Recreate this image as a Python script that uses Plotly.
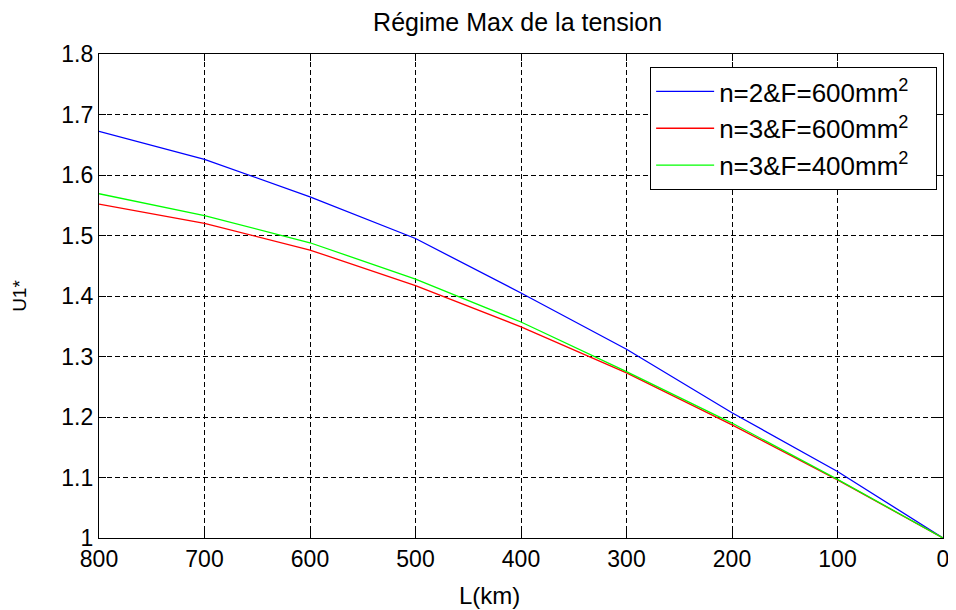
import plotly.graph_objects as go

L_km = [800, 700, 600, 500, 400, 300, 200, 100, 0]
u_n2_f600 = [1.672, 1.626, 1.564, 1.495, 1.405, 1.312, 1.207, 1.110, 1.0]
u_n3_f600 = [1.552, 1.520, 1.476, 1.417, 1.349, 1.273, 1.187, 1.096, 1.0]
u_n3_f400 = [1.569, 1.533, 1.488, 1.428, 1.357, 1.275, 1.190, 1.097, 1.0]

x_ticks = [800, 700, 600, 500, 400, 300, 200, 100, 0]
y_ticks = [1.0, 1.1, 1.2, 1.3, 1.4, 1.5, 1.6, 1.7, 1.8]
y_tick_text = ["1", "1.1", "1.2", "1.3", "1.4", "1.5", "1.6", "1.7", "1.8"]

names = ["n=2&F=600mm<sup>2</sup>", "n=3&F=600mm<sup>2</sup>", "n=3&F=400mm<sup>2</sup>"]
colors = ["#0000ff", "#ff0000", "#00ff00"]
series = [u_n2_f600, u_n3_f600, u_n3_f400]

fig = go.Figure()
for nm, c, s in zip(names, colors, series):
    fig.add_trace(go.Scatter(x=L_km, y=s, mode="lines", name=nm + "   ",
                             line=dict(color=c, width=1.3)))

font = "Liberation Sans, Arial, sans-serif"
axis_common = dict(
    showline=True, linecolor="black", linewidth=1.2, mirror="allticks",
    ticks="inside", ticklen=7, tickcolor="black",
    showgrid=True, gridcolor="black", griddash="5px,3px", gridwidth=1,
    zeroline=False, tickfont=dict(family=font, size=23, color="black"),
)

fig.update_layout(
    width=948, height=602,
    margin=dict(l=91, r=13, t=46, b=72, autoexpand=False),
    paper_bgcolor="white", plot_bgcolor="white",
    title=dict(text="Régime Max de la tension", x=0.496, xref="paper",
               y=0.977, yref="container", xanchor="center", yanchor="middle",
               font=dict(family=font, size=25, color="black")),
    xaxis=dict(range=[800, 0], tickvals=x_ticks, **axis_common),
    yaxis=dict(range=[1.0, 1.8], tickvals=y_ticks, ticktext=y_tick_text,
               title=dict(text="U1*", font=dict(family=font, size=19, color="black"), standoff=29),
               **axis_common),
    legend=dict(x=0.653, y=0.973, xanchor="left", yanchor="top",
                bgcolor="white", bordercolor="black", borderwidth=1,
                font=dict(family=font, size=26, color="black"),
                tracegroupgap=0, itemwidth=58),
    showlegend=True,
    annotations=[dict(text="L(km)", x=0.463, y=-0.118, xref="paper", yref="paper",
                      xanchor="center", yanchor="middle", showarrow=False,
                      font=dict(family=font, size=24, color="black"))],
)

fig.write_html("out.html")
